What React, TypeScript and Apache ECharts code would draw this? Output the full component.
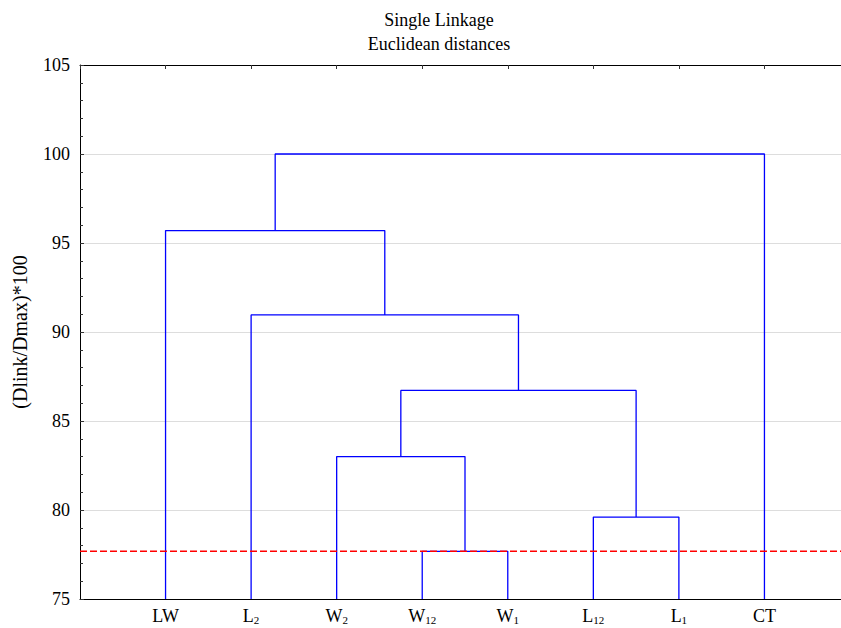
import React, { useEffect, useRef } from "react";
import * as echarts from "echarts";

// Leaves (order along the x axis), with subscripts
const leafNames = ["LW", "L", "W", "W", "W", "L", "L", "CT"];
const leafSubs = ["", "2", "2", "12", "1", "12", "1", ""];

// Linkage: cluster ids 0..7 are leaves, each merge creates id 8, 9, ...
const mergeA = [3, 5, 2, 10, 1, 0, 13];
const mergeB = [4, 6, 8, 9, 11, 12, 7];
const mergeHeight = [77.68, 79.6, 83.0, 86.72, 90.96, 95.7, 100.0];

const cutoff = 77.68;
const yTicks = [75, 80, 85, 90, 95, 100, 105];

const FONT = "'Liberation Serif', 'Times New Roman', serif";

export default function App() {
  const ref = useRef<HTMLDivElement>(null);

  useEffect(() => {
    if (!ref.current) return;
    const chart = echarts.init(ref.current, undefined, { renderer: "svg" });

    const base = yTicks[0];
    const xs: number[] = leafNames.map((_, i) => i + 1);
    const hs: number[] = leafNames.map(() => base);
    const series: any[] = [];
    mergeA.forEach((a, k) => {
      const b = mergeB[k];
      const h = mergeHeight[k];
      series.push({
        type: "line",
        data: [
          [xs[a], hs[a]],
          [xs[a], h],
          [xs[b], h],
          [xs[b], hs[b]],
        ],
        symbol: "none",
        lineStyle: { color: "#0000ff", width: 1.3 },
        silent: true,
      });
      xs.push((xs[a] + xs[b]) / 2);
      hs.push(h);
    });
    series.push({
      type: "line",
      data: [
        [0, cutoff],
        [leafNames.length + 1, cutoff],
      ],
      symbol: "none",
      lineStyle: { color: "#ff0000", width: 1.5, type: [7, 3] },
      silent: true,
    });

    const rich: any = {
      m: { fontFamily: FONT, fontSize: 18, lineHeight: 18, color: "#000", verticalAlign: "top" },
      s: { fontFamily: FONT, fontSize: 11, lineHeight: 11, color: "#000", verticalAlign: "top", padding: [7, 0, 0, 0] },
    };

    chart.setOption({
      animation: false,
      title: {
        text: "Single Linkage\nEuclidean distances",
        left: 434,
        top: 3,
        textAlign: "center",
        textStyle: { fontFamily: FONT, fontSize: 18, fontWeight: "normal", color: "#000", lineHeight: 24 },
      },
      grid: { left: 80, top: 65, width: 770, height: 534, outerBoundsMode: "none", containLabel: false },
      xAxis: [
        {
          type: "value",
          min: 0,
          max: leafNames.length + 1,
          interval: 1,
          position: "bottom",
          splitLine: { show: false },
          axisTick: { show: false },
          axisLine: { lineStyle: { color: "#000", width: 1 } },
          axisLabel: {
            margin: 8,
            rich,
            formatter: (v: number) => {
              const i = Math.round(v) - 1;
              if (i < 0 || i >= leafNames.length) return "";
              return leafSubs[i]
                ? `{m|${leafNames[i]}}{s|${leafSubs[i]}}`
                : `{m|${leafNames[i]}}`;
            },
          },
        },
        {
          type: "value",
          min: 0,
          max: leafNames.length + 1,
          interval: 1,
          position: "top",
          splitLine: { show: false },
          axisLabel: { show: false },
          axisTick: { show: true, inside: true, length: 4, lineStyle: { color: "#333" } },
          axisLine: { show: true, lineStyle: { color: "#000", width: 1 } },
        },
      ],
      yAxis: {
        type: "value",
        min: yTicks[0],
        max: yTicks[yTicks.length - 1],
        interval: 5,
        name: "(Dlink/Dmax)*100",
        nameLocation: "middle",
        nameGap: 50,
        nameTextStyle: { fontFamily: FONT, fontSize: 20, color: "#000" },
        axisLine: { show: true, lineStyle: { color: "#000", width: 1 } },
        axisTick: { show: true, inside: true, length: 4, lineStyle: { color: "#333" } },
        minorTick: { show: true, splitNumber: 5, length: 3, lineStyle: { color: "#333" } },
        splitLine: { show: true, lineStyle: { color: "#dddddd", width: 1 } },
        axisLabel: { fontFamily: FONT, fontSize: 18, color: "#000", margin: 10 },
      },
      series,
    });

    return () => chart.dispose();
  }, []);

  return (
    <div
      ref={ref}
      style={{ position: "fixed", left: 0, top: 0, width: 841, height: 628, background: "#fff" }}
    />
  );
}
